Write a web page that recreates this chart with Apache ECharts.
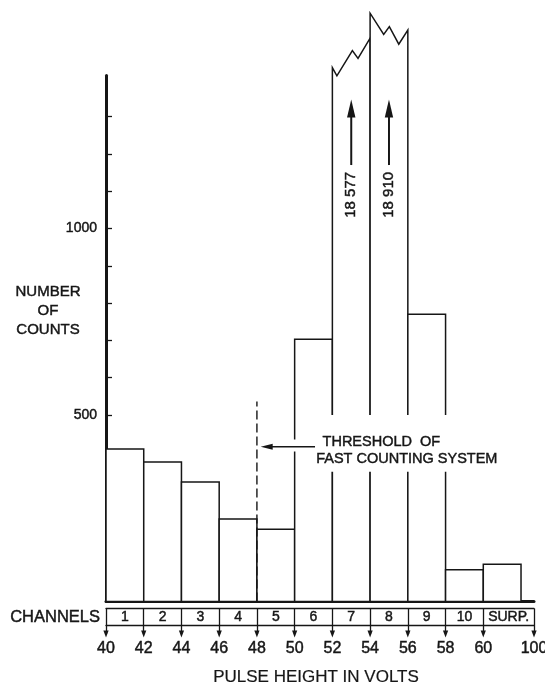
<!DOCTYPE html>
<html>
<head>
<meta charset="utf-8">
<script src="https://cdn.jsdelivr.net/npm/echarts@6/dist/echarts.min.js"></script>
<style>html,body{margin:0;padding:0;background:#fff}#c{width:545px;height:690px}</style>
</head>
<body>
<div id="c"></div>
<script>
// ---------- data ----------
const channels = ['1', '2', '3', '4', '5', '6', '7', '8', '9', '10', 'SURP.'];
const voltages = [40, 42, 44, 46, 48, 50, 52, 54, 56, 58, 60, 100];
const counts = [409, 374, 320, 221, 194, 703, 18577, 18910, 770, 85, 100];
const yTickValues = [100, 200, 300, 400, 500, 600, 700, 800, 900, 1000, 1100, 1200, 1300];
const yLabelValues = [500, 1000];
// broken (off-scale) tops of channels 7 and 8: [fraction across bin, drawn height]
const brokenTop7 = [[0, 1431], [0.12, 1409], [0.53, 1477], [0.68, 1456], [1, 1510]];
const brokenTop8 = [[0, 1577], [0.36, 1520], [0.51, 1541], [0.76, 1494], [1, 1532]];
const thresholdVolts = 48;
const thresholdLines = ['THRESHOLD  OF', 'FAST COUNTING SYSTEM'];

// ---------- layout constants ----------
const INK = '#161616';
const FONT = '"Liberation Sans", Arial, sans-serif';
const BOLDEN = 0.45;           // slight stroke to mimic the heavy lettering
const Y_MAX = 1410;            // top of the drawn count axis
const LAST_SPAN = 1.344;       // the 60-100 V segment is drawn 1.344 bins wide
const X_MAX = 10 + LAST_SPAN;
const brokenTops = {6: brokenTop7, 7: brokenTop8};

const bPos = voltages.map((v, i) => (i <= 10 ? i : 10 + LAST_SPAN));
const cPos = channels.map((c, i) => (bPos[i] + bPos[i + 1]) / 2);
const thrIdx = voltages.indexOf(thresholdVolts);

function near(arr, v) { return arr.findIndex(a => Math.abs(a - v) < 1e-6); }
function fmtCount(v) { return String(v).replace(/\B(?=(\d{3})+(?!\d))/g, ' '); }
function txt(text, size, extra) {
  return Object.assign({text, fill: INK, font: size + 'px ' + FONT, stroke: INK, lineWidth: BOLDEN}, extra || {});
}

const chart = echarts.init(document.getElementById('c'), null, {renderer: 'canvas'});

function renderBar(params, api) {
  const i = api.value(0), v = api.value(1);
  const children = [];
  const p0 = api.coord([i, 0]);
  const p1 = api.coord([i + 1, 0]);
  if (v <= Y_MAX) {
    const pt = api.coord([i, v]);
    children.push({
      type: 'rect',
      shape: {x: p0[0], y: pt[1], width: p1[0] - p0[0], height: p0[1] - pt[1]},
      style: {fill: '#fff', stroke: INK, lineWidth: 1.5}
    });
  } else {
    const prof = brokenTops[i];
    const pts = [p0];
    prof.forEach(([f, h]) => pts.push(api.coord([i + f, h])));
    pts.push(p1);
    children.push({
      type: 'polygon',
      shape: {points: pts},
      style: {fill: '#fff', stroke: INK, lineWidth: 1.5, lineJoin: 'miter'}
    });
    // up arrow and rotated count label
    const c = i + 0.5;
    const a0 = api.coord([c, 1170]);
    const a1 = api.coord([c, 1346]);
    children.push({type: 'line', shape: {x1: a0[0], y1: a0[1], x2: a1[0], y2: a1[1] + 14},
      style: {stroke: INK, lineWidth: 2}});
    children.push({type: 'polygon',
      shape: {points: [[a1[0], a1[1]], [a1[0] - 4.2, a1[1] + 18], [a1[0] + 4.2, a1[1] + 18]]},
      style: {fill: INK}});
    const t = api.coord([c, 1090]);
    children.push({type: 'text', x: t[0], y: t[1], rotation: Math.PI / 2,
      style: txt(fmtCount(v), 15, {align: 'center', verticalAlign: 'middle'})});
  }
  return {type: 'group', children};
}

function renderThreshold(params, api) {
  const x = api.value(0), top = api.value(1);
  const children = [];
  const d0 = api.coord([x, 0]), d1 = api.coord([x, top]);
  children.push({type: 'line', shape: {x1: d0[0], y1: d0[1], x2: d1[0], y2: d1[1]},
    style: {stroke: INK, lineWidth: 1.4, lineDash: [9, 4]}});
  // white knock-outs behind the arrow and the note
  const r0 = api.coord([x + 0.15, 434]), r1 = api.coord([x + 1.2, 402]);
  children.push({type: 'rect', shape: {x: r0[0], y: r0[1], width: r1[0] - r0[0], height: r1[1] - r0[1]},
    style: {fill: '#fff'}});
  const q0 = api.coord([x + 1.15, 500]), q1 = api.coord([x + 6.6, 348]);
  children.push({type: 'rect', shape: {x: q0[0], y: q0[1], width: q1[0] - q0[0], height: q1[1] - q0[1]},
    style: {fill: '#fff'}});
  // arrow pointing to the threshold
  const tip = api.coord([x + 0.1, 415]), tail = api.coord([x + 1.54, 415]);
  children.push({type: 'line', shape: {x1: tail[0], y1: tail[1], x2: tip[0] + 10, y2: tip[1]},
    style: {stroke: INK, lineWidth: 1.4}});
  children.push({type: 'polygon',
    shape: {points: [[tip[0], tip[1]], [tip[0] + 12, tip[1] - 3], [tip[0] + 12, tip[1] + 3]]},
    style: {fill: INK}});
  const t1 = api.coord([x + 1.74, 427]);
  children.push({type: 'text', x: t1[0], y: t1[1],
    style: txt(thresholdLines[0], 14.5, {align: 'left', verticalAlign: 'middle'})});
  const t2 = api.coord([x + 1.57, 382]);
  children.push({type: 'text', x: t2[0], y: t2[1],
    style: txt(thresholdLines[1], 14.5, {align: 'left', verticalAlign: 'middle'})});
  return {type: 'group', children};
}

function renderArrowHead(params, api) {
  const b = api.value(0);
  const p = api.coord([b, 0]);
  const tipY = p[1] + 36;
  return {type: 'polygon',
    shape: {points: [[p[0], tipY], [p[0] - 2.6, tipY - 7], [p[0] + 2.6, tipY - 7]]},
    style: {fill: INK}};
}

const labelBold = {textBorderColor: INK, textBorderWidth: BOLDEN};

const option = {
  animation: false,
  backgroundColor: '#fff',
  textStyle: {fontFamily: FONT, color: INK},
  grid: {left: 106, right: 11, top: 75.5, bottom: 88.5, containLabel: false, outerBoundsMode: 'none'},
  xAxis: [
    {
      type: 'value', min: 0, max: X_MAX, position: 'bottom',
      axisLine: {show: true, onZero: false, lineStyle: {color: INK, width: 3}},
      axisTick: {show: false}, axisLabel: {show: false}, splitLine: {show: false}
    },
    {
      type: 'value', min: 0, max: X_MAX, position: 'bottom', offset: 7,
      axisLine: {show: true, onZero: false, lineStyle: {color: INK, width: 1.3}},
      axisTick: {show: true, customValues: bPos, length: 16.5, lineStyle: {color: INK, width: 1.3}},
      axisLabel: Object.assign({show: true, customValues: cPos, margin: 2, color: INK, fontFamily: FONT,
        formatter: v => channels[near(cPos, v)] || '', fontSize: 14}, labelBold),
      splitLine: {show: false}
    },
    {
      type: 'value', min: 0, max: X_MAX, position: 'bottom', offset: 23.5,
      axisLine: {show: true, onZero: false, lineStyle: {color: INK, width: 1.3}},
      axisTick: {show: true, customValues: bPos, length: 9, lineStyle: {color: INK, width: 1.3}},
      axisLabel: Object.assign({show: true, customValues: bPos, margin: 16, color: INK, fontFamily: FONT, fontSize: 16,
        formatter: v => { const k = near(bPos, v); return k >= 0 ? String(voltages[k]) : ''; }}, labelBold),
      splitLine: {show: false}
    }
  ],
  yAxis: {
    type: 'value', min: 0, max: Y_MAX,
    axisLine: {show: true, onZero: false, lineStyle: {color: INK, width: 3}},
    axisTick: {show: true, inside: true, length: 6, customValues: yTickValues, lineStyle: {color: INK, width: 1.3}},
    axisLabel: Object.assign({show: true, customValues: yLabelValues, margin: 9, color: INK, fontFamily: FONT, fontSize: 14,
      formatter: v => String(v)}, labelBold),
    splitLine: {show: false}
  },
  graphic: [
    {type: 'text', x: 48, y: 311, style: txt('NUMBER\nOF\nCOUNTS', 15, {align: 'center', verticalAlign: 'middle', lineHeight: 19})},
    {type: 'text', x: 100, y: 617, style: txt('CHANNELS', 16.5, {align: 'right', verticalAlign: 'middle'})},
    {type: 'text', x: 316, y: 677, style: txt('PULSE HEIGHT IN VOLTS', 17, {align: 'center', verticalAlign: 'middle', lineWidth: 0.2})}
  ],
  series: [
    {
      type: 'custom', name: 'counts', xAxisIndex: 0, yAxisIndex: 0, clip: false,
      renderItem: renderBar, encode: {x: 0, y: 1},
      data: counts.map((v, i) => [i, v])
    },
    {
      type: 'custom', name: 'threshold', xAxisIndex: 0, yAxisIndex: 0, clip: false,
      renderItem: renderThreshold, encode: {x: 0, y: 1},
      data: [[bPos[thrIdx], 536]]
    },
    {
      type: 'custom', name: 'arrows', xAxisIndex: 0, yAxisIndex: 0, clip: false,
      renderItem: renderArrowHead, encode: {x: 0},
      data: bPos.map(b => [b, 0])
    }
  ]
};
chart.setOption(option);
</script>
</body>
</html>
